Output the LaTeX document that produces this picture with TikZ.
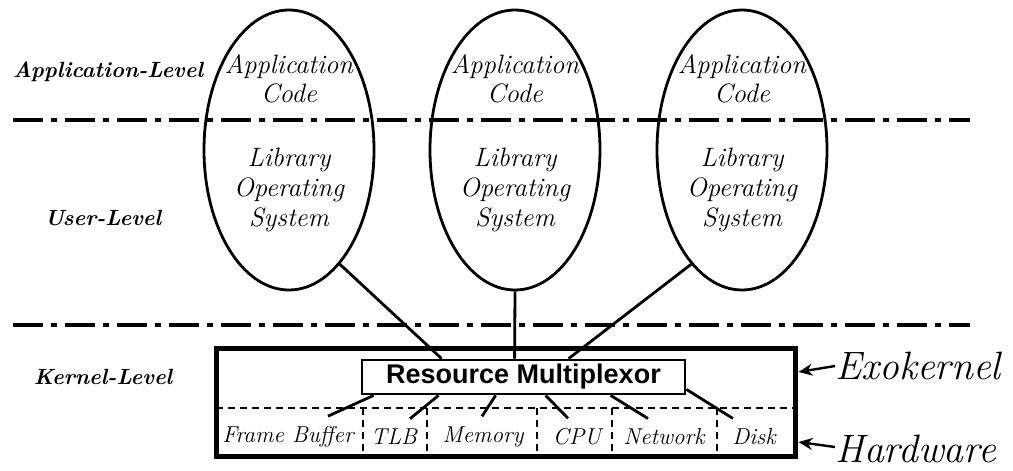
\documentclass[tikz,border=0pt]{standalone}
\usepackage{fontspec}
\newfontfamily\muxfont{Liberation Sans}
\usetikzlibrary{shapes.geometric,arrows.meta,calc}
\begin{document}
\begin{tikzpicture}[x=0.5pt,y=-0.5pt,
  lvl/.style={font=\fontsize{11}{13}\selectfont\bfseries\itshape, inner sep=0},
  ell/.style={ellipse, draw, line width=1.4pt, minimum width=85pt, minimum height=140pt, inner sep=0},
  etxt/.style={font=\fontsize{13.3}{14.5}\selectfont\itshape, align=center, inner sep=0},
  ltxt/.style={font=\fontsize{13.3}{15}\selectfont\itshape, align=center, inner sep=0},
  divider/.style={line width=1.6pt, dash pattern=on 15pt off 4pt on 3pt off 4pt},
  conn/.style={line width=1.4pt},
  hwlbl/.style={font=\fontsize{11.5}{13}\selectfont\itshape, inner sep=0},
  sep/.style={line width=1.2pt, dash pattern=on 3.5pt off 2.5pt},
  big/.style={font=\fontsize{19.8}{22}\selectfont\itshape, inner sep=0, anchor=west},
  pointer/.style={line width=1.2pt, -{Stealth[length=7pt,width=6pt]}}
]
\useasboundingbox (0,0) rectangle (1013,471);

% level lines
\coordinate (d1l) at (13,120); \coordinate (d1r) at (970,120);
\coordinate (d2l) at (13,325); \coordinate (d2r) at (970,325);
\draw[divider] (d1l) -- (d1r);
\draw[divider] (d2l) -- (d2r);

% level labels
\node[lvl] (alvl) at (108,72) {Application-Level};
\node[lvl] (ulvl) at (103,218) {User-Level};
\node[lvl] (klvl) at (103,377) {Kernel-Level};

% ellipses
\foreach \i/\x in {1/289,2/515,3/742}{
  \node[ell] (e\i) at (\x,150) {};
  \node[etxt] (ac\i) at (\x,79) {Application\\Code};
  \node[ltxt] (lo\i) at (\x,190) {Library\\Operating\\System};
}

% exokernel box
\node[draw, line width=2.5pt, minimum width=289.5pt, minimum height=54pt, inner sep=0] (exo) at (505.5,402) {};
\node[draw, line width=1.4pt, fill=white, minimum width=161.5pt, minimum height=17pt, inner sep=0,
  font=\muxfont\fontsize{13.5}{15}\selectfont\bfseries] (mux) at (523.5,377) {Resource Multiplexor};

\coordinate (hl) at (216,408); \coordinate (hr) at (795,408);
\draw[sep] (hl) -- (hr);

% hardware labels
\node[hwlbl] (fb) at (288,437) {Frame Buffer};
\node[hwlbl] (tlb) at (394,437) {TLB};
\node[hwlbl] (mem) at (483,437) {Memory};
\node[hwlbl] (cpu) at (577,437) {CPU};
\node[hwlbl] (net) at (664,437) {Network};
\node[hwlbl] (dsk) at (754,437) {Disk};

\foreach \x in {363,427,537,612,717}{
  \draw[sep] (\x,408) -- (\x,452);
}

% ellipse to multiplexor
\draw[conn] (e1.-66) -- ($(mux.north west)+(81,0)$);
\draw[conn] (e2.south) -- ($(mux.north west)+(154,0)$);
\draw[conn] (e3.-114) -- ($(mux.north west)+(208,0)$);

% multiplexor to hardware
\draw[conn] ($(mux.south west)+(13,0)$) -- ($(fb.north)+(40,-10)$);
\draw[conn] ($(mux.south west)+(78,0)$) -- ($(tlb.north)+(16,-10)$);
\draw[conn] ($(mux.south west)+(135,0)$) -- ($(mem.north)+(-1,-10)$);
\draw[conn] ($(mux.south west)+(185,0)$) -- ($(cpu.north)+(-9,-10)$);
\draw[conn] ($(mux.south west)+(250,0)$) -- ($(net.north)+(-16,-10)$);
\draw[conn] ($(mux.south east)+(0,-6)$) -- ($(dsk.north)+(-21,-10)$);

% side labels
\node[big] (exol) at (835,366) {Exokernel};
\node[big] (hwl) at (835,449) {Hardware};
\draw[pointer] (exol.west) -- ($(exo.east)+(1,-30)$);
\draw[pointer] ($(hwl.west)+(0,-2)$) -- ($(exo.east)+(1,40)$);
\end{tikzpicture}
\end{document}
